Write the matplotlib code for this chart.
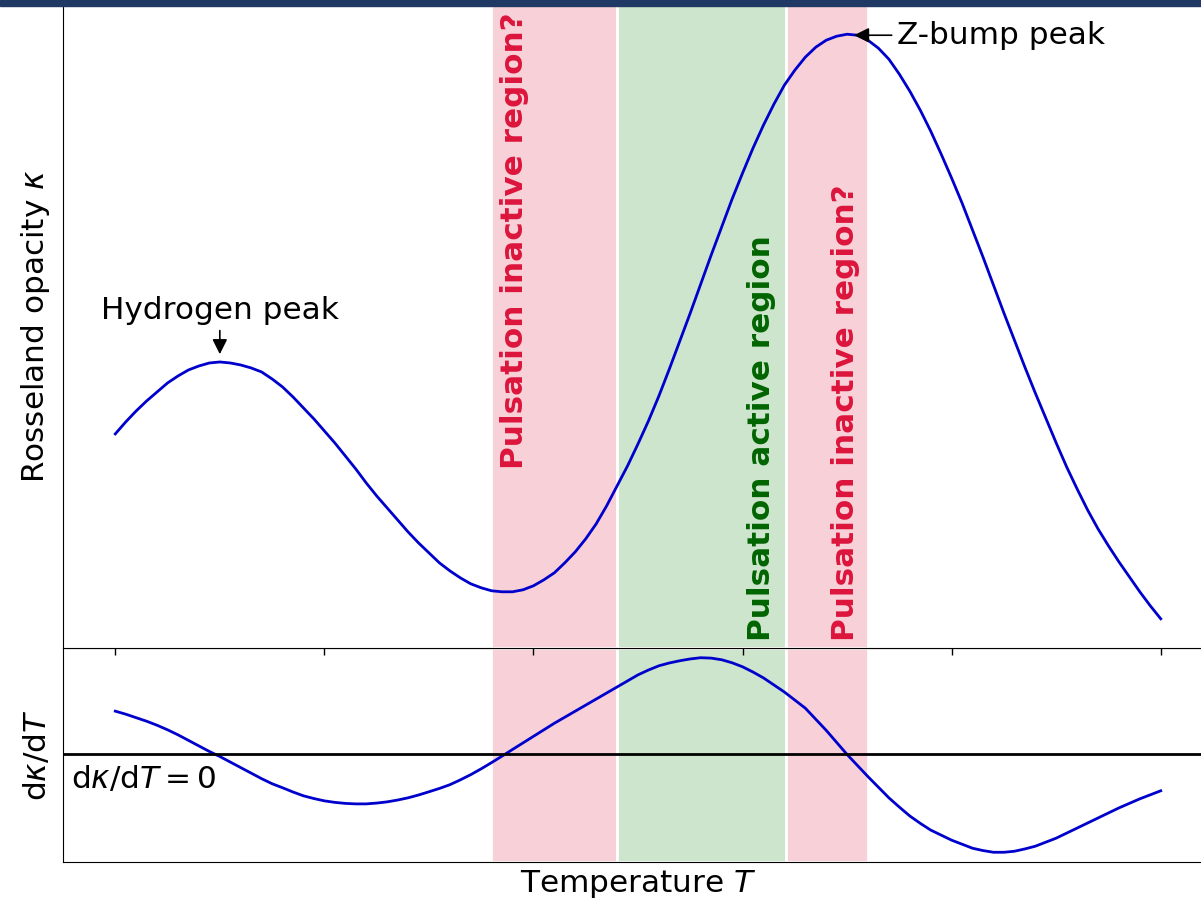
import numpy as np
import matplotlib
matplotlib.use("Agg")
import matplotlib.pyplot as plt
from matplotlib.patches import Rectangle

# temperature grid (arbitrary units) and curves
T = np.round(np.arange(101) * 0.05, 2)

kappa = [2.17, 2.29, 2.40, 2.50, 2.59, 2.68, 2.75, 2.81, 2.85, 2.88,
         2.89, 2.88, 2.86, 2.83, 2.79, 2.72, 2.64, 2.54, 2.43, 2.32,
         2.20, 2.08, 1.95, 1.82, 1.68, 1.55, 1.43, 1.31, 1.19, 1.08,
         0.98, 0.88, 0.80, 0.73, 0.67, 0.63, 0.60, 0.59, 0.59, 0.61,
         0.65, 0.71, 0.78, 0.88, 0.99, 1.12, 1.27, 1.45, 1.65, 1.85,
         2.07, 2.30, 2.55, 2.82, 3.10, 3.38, 3.67, 3.96, 4.24, 4.52,
         4.78, 5.03, 5.26, 5.47, 5.66, 5.81, 5.94, 6.04, 6.11, 6.15,
         6.17, 6.16, 6.11, 6.03, 5.92, 5.77, 5.60, 5.41, 5.20, 4.97,
         4.73, 4.48, 4.21, 3.94, 3.66, 3.38, 3.11, 2.84, 2.58, 2.33,
         2.08, 1.84, 1.62, 1.41, 1.22, 1.05, 0.89, 0.74, 0.59, 0.45,
         0.32]

dkappa = [0.43, 0.40, 0.365, 0.33, 0.29, 0.245, 0.195, 0.14, 0.085, 0.03,
          -0.02, -0.075, -0.13, -0.185, -0.24, -0.29, -0.33, -0.372, -0.41, -0.437,
          -0.46, -0.475, -0.485, -0.49, -0.49, -0.482, -0.47, -0.452, -0.43, -0.402,
          -0.37, -0.337, -0.30, -0.252, -0.20, -0.142, -0.08, -0.016, 0.05, 0.115,
          0.18, 0.245, 0.31, 0.37, 0.43, 0.49, 0.55, 0.61, 0.67, 0.73,
          0.79, 0.838, 0.88, 0.908, 0.93, 0.948, 0.96, 0.956, 0.94, 0.91,
          0.87, 0.818, 0.76, 0.69, 0.62, 0.54, 0.46, 0.35, 0.24, 0.12,
          0.00, -0.11, -0.22, -0.325, -0.43, -0.522, -0.61, -0.683, -0.75, -0.80,
          -0.85, -0.89, -0.93, -0.953, -0.97, -0.97, -0.96, -0.937, -0.91, -0.87,
          -0.83, -0.78, -0.73, -0.68, -0.63, -0.58, -0.53, -0.485, -0.44, -0.40,
          -0.36]

# shaded regions (T start, T end)
inactive1 = (1.795, 2.40)
active = (2.40, 3.21)
inactive2 = (3.21, 3.6)

pink = (220/255, 20/255, 60/255, 0.2)
green = (0, 128/255, 0, 0.2)
fs = 22.4

fig = plt.figure(figsize=(12.01, 9.02), dpi=100)
W, H = 1201, 902
ax1 = fig.add_axes([63/W, (902-648)/H, 1150/W, 643/H])
ax2 = fig.add_axes([63/W, (902-862)/H, 1150/W, 214/H], sharex=ax1)
ax1.set_zorder(2)

for ax in (ax1, ax2):
    for (a, b), c in zip([inactive1, active, inactive2], [pink, green, pink]):
        ax.axvspan(a, b, fc=c, ec='white', lw=2)

ax1.plot(T, kappa, color='mediumblue', lw=2)
ax2.plot(T, dkappa, color='mediumblue', lw=2)
ax2.axhline(0, color='black', lw=2)

ax1.set_yticks([])
ax1.tick_params(axis='x', labelbottom=False, length=5, width=1)
ax2.set_yticks([])
ax2.tick_params(axis='x', bottom=False, labelbottom=False)

ax1.set_ylabel(r'Rosseland opacity $\kappa$', fontsize=fs)
ax2.set_ylabel(r'$\mathrm{d}\kappa/\mathrm{d}T$', fontsize=fs)
ax2.set_xlabel(r'Temperature $T$', fontsize=fs)
ax1.yaxis.set_label_coords(-0.0095, 0.5)
ax2.yaxis.set_label_coords(-0.0095, 0.5)

ax1.annotate('Hydrogen peak', xy=(0.5, 2.94), xytext=(0.5, 3.26),
             ha='center', va='bottom', fontsize=fs,
             arrowprops=dict(arrowstyle='-|>', color='black', lw=1.2))
ax1.annotate('Z-bump peak', xy=(3.52, 6.16), xytext=(3.74, 6.16),
             ha='left', va='center', fontsize=fs,
             arrowprops=dict(arrowstyle='-|>', color='black', lw=1.2))

ax1.text(1.91, 1.82, 'Pulsation inactive region?', rotation=90, ha='center',
         va='bottom', fontsize=fs, fontweight='bold', color='crimson')
ax1.text(3.09, 0.10, 'Pulsation active region', rotation=90, ha='center',
         va='bottom', fontsize=fs, fontweight='bold', color='darkgreen')
ax1.text(3.49, 0.10, 'Pulsation inactive region?', rotation=90, ha='center',
         va='bottom', fontsize=fs, fontweight='bold', color='crimson')

ax2.text(-0.21, -0.09, r'$\mathrm{d}\kappa/\mathrm{d}T = 0$', ha='left',
         va='top', fontsize=fs)

fig.patches.append(Rectangle((0, 1 - 6/H), 1, 6/H, transform=fig.transFigure,
                             color='#1f3864', zorder=10))

fig.savefig('out.png', dpi=100)
